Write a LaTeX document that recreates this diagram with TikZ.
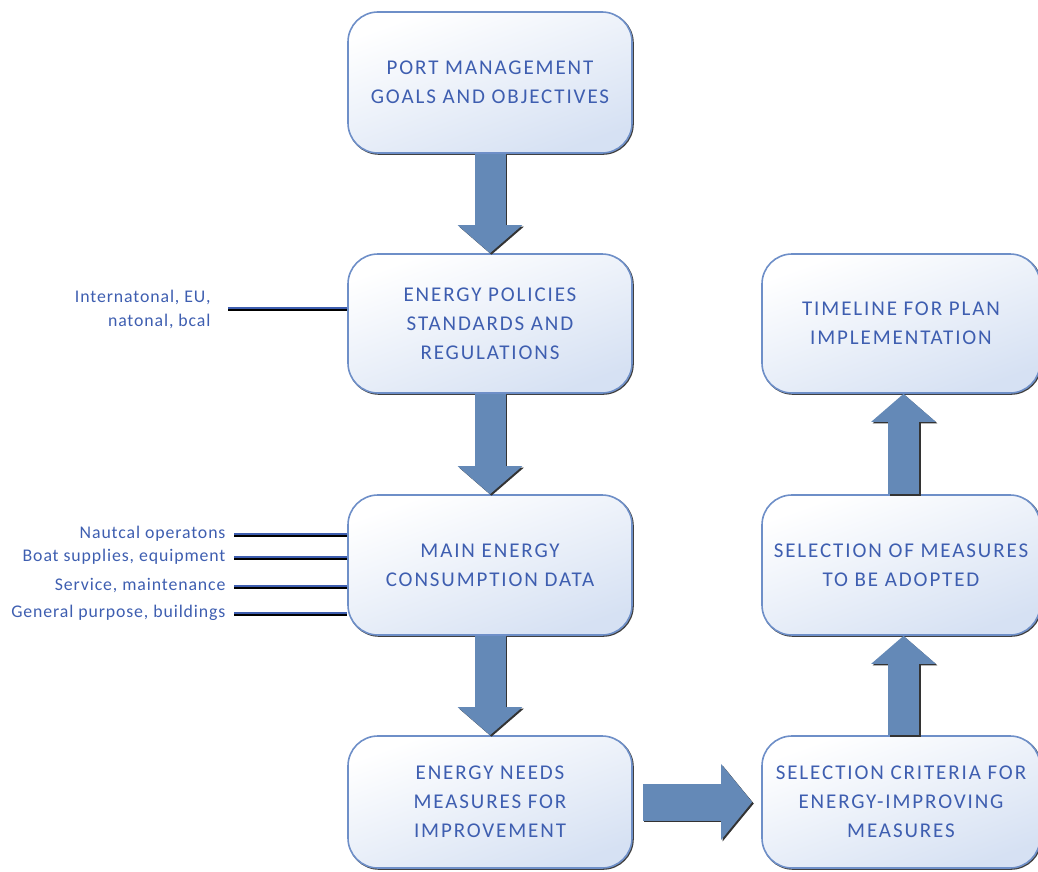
\documentclass[tikz,border=0pt]{standalone}
\usepackage{fontspec}
\setmainfont{Carlito}
\newfontfamily\boxfont[LetterSpace=9]{Carlito}
\newfontfamily\labelfont[LetterSpace=5]{Carlito}
\usepackage{xcolor}
\usepackage{tikz}
\usetikzlibrary{arrows.meta,calc,positioning}
\definecolor{boxline}{RGB}{110,143,200}
\definecolor{boxfill}{RGB}{214,225,243}
\definecolor{textblue}{RGB}{62,94,176}
\definecolor{arrowfill}{RGB}{100,137,183}
\tikzset{
  stage/.style={draw=boxline, line width=1.6pt, rounded corners=30pt,
    top color=white, bottom color=boxfill, shading angle=20,
    minimum width=284pt, align=center, text=textblue,
    font=\boxfont\fontsize{21}{29}\selectfont,
    preaction={draw=black!75, line width=1.6pt,
      transform canvas={shift={(1pt,-1pt)}}}},
  bigarrow/.style={draw=arrowfill, line width=31pt,
    -{Triangle[length=28pt,width=63pt,fill=arrowfill]},
    preaction={draw=black!80, line width=31pt,
      -{Triangle[length=28pt,width=63pt]},
      transform canvas={shift={(1.5pt,-1.5pt)}}}},
  feed/.style={draw=textblue, line width=2.2pt,
    preaction={draw=black, line width=2.2pt,
      transform canvas={shift={(0pt,-1.4pt)}}}},
  feedlabel/.style={anchor=east, align=right, text=textblue,
    font=\labelfont\fontsize{17.8}{24}\selectfont}
}
\begin{document}
\begin{tikzpicture}[x=1pt,y=-1pt]
\useasboundingbox (0,0) rectangle (1038,872);
% left column
\node[stage, minimum height=141pt] (goals) at (490,82.5)
  {PORT MANAGEMENT\\GOALS AND OBJECTIVES};
\node[stage, minimum height=139pt] (policy) at (490,323.5)
  {ENERGY POLICIES\\STANDARDS AND\\REGULATIONS};
\node[stage, minimum height=140pt] (consume) at (490,565)
  {MAIN ENERGY\\CONSUMPTION DATA};
\node[stage, minimum height=132pt] (needs) at (490,802)
  {ENERGY NEEDS\\MEASURES FOR\\IMPROVEMENT};
% right column
\node[stage, minimum width=278pt, minimum height=139pt] (timeline) at (901,323.5)
  {TIMELINE FOR PLAN\\IMPLEMENTATION};
\node[stage, minimum width=278pt, minimum height=140pt] (select) at (901,565)
  {SELECTION OF MEASURES\\TO BE ADOPTED};
\node[stage, minimum width=278pt, minimum height=132pt] (criteria) at (901,802)
  {SELECTION CRITERIA FOR\\ENERGY-IMPROVING\\MEASURES};
% flow arrows
\draw[bigarrow] (goals.south) -- (policy.north);
\draw[bigarrow] (policy.south) -- (consume.north);
\draw[bigarrow] (consume.south) -- (needs.north);
\draw[bigarrow, line width=37pt,
  -{Triangle[length=31pt,width=74pt,fill=arrowfill]},
  preaction={draw=black!80, line width=37pt,
    -{Triangle[length=31pt,width=74pt]},
    transform canvas={shift={(1.5pt,-1.5pt)}}},
  shorten <=10pt, shorten >=9pt] (needs.east) -- (criteria.west);
\draw[bigarrow] ($(criteria.north)+(2.5,0)$) -- ($(select.south)+(2.5,0)$);
\draw[bigarrow] ($(select.north)+(2.5,0)$) -- ($(timeline.south)+(2.5,0)$);
% inputs to policies
\coordinate (lawin) at (228,308);
\draw[feed] (lawin) -- (lawin -| policy.west);
\node[feedlabel] (lawtxt) at (214,309) {Internatonal, EU,\\natonal, bcal};
% inputs to consumption data
\foreach \y/\name/\txt in {534/nautic/{Nautcal operatons},
    557/boat/{Boat supplies, equipment},
    586/service/{Service, maintenance},
    613/general/{General purpose, buildings}}{
  \coordinate (\name in) at (234,\y);
  \draw[feed] (\name in) -- (\name in -| consume.west);
  \node[feedlabel] (\name txt) at (229,\y) {\txt};
}
\end{tikzpicture}
\end{document}
